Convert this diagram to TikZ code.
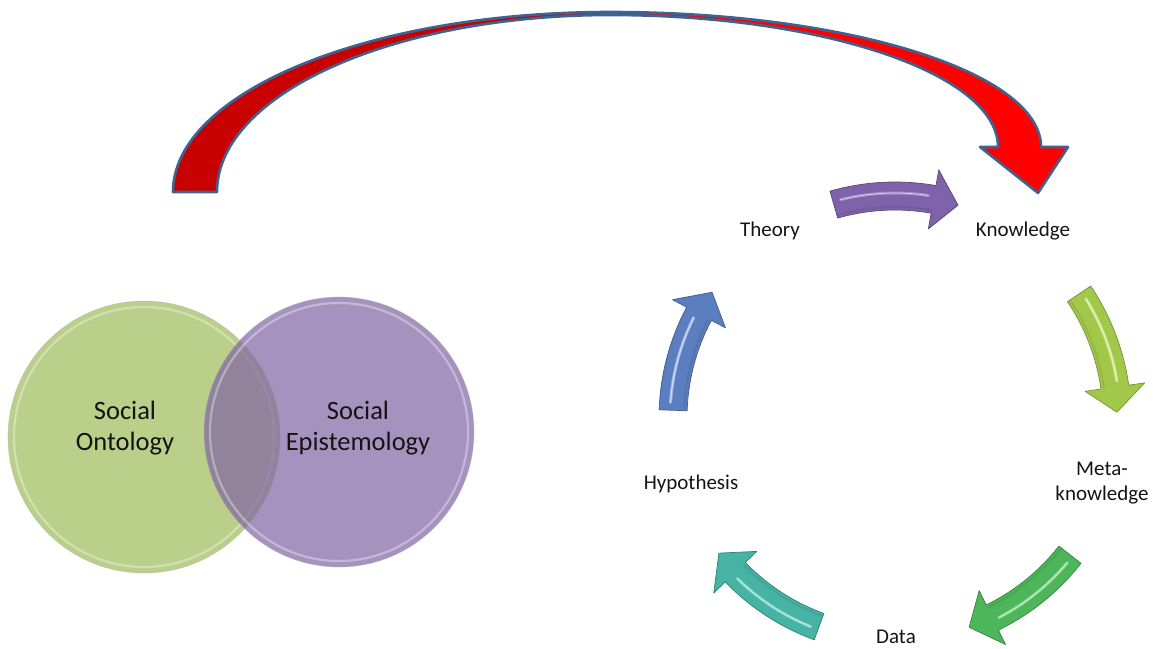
\documentclass[tikz,border=0pt]{standalone}
\usepackage{fontspec}
\setmainfont{Carlito}
\usetikzlibrary{calc}

\definecolor{arcdark}{HTML}{C80000}
\definecolor{arcbright}{HTML}{FF0000}
\definecolor{arcedge}{HTML}{3F6391}
\definecolor{ontogreen}{HTML}{9BBB59}
\definecolor{epipurple}{HTML}{8064A2}
\definecolor{txt}{HTML}{141414}
% cycle arrow colours: fill and bevel highlight
\definecolor{cpurple}{HTML}{7F62AA}\definecolor{hpurple}{HTML}{A893CF}
\definecolor{clime}{HTML}{A2C84A}\definecolor{hlime}{HTML}{D2EC95}
\definecolor{cgreen}{HTML}{4DB65A}\definecolor{hgreen}{HTML}{8EE096}
\definecolor{cteal}{HTML}{46B3A4}\definecolor{hteal}{HTML}{8AD9CD}
\definecolor{cblue}{HTML}{5A7EC0}\definecolor{hblue}{HTML}{A9C2EC}

% centre of the cycle and radii of the curved arrows
\def\cyx{895}\def\cyy{418}

% curved block arrow on the cycle: #1 middle angle, #2 fill, #3 highlight
\newcommand{\cycarrow}[3]{%
  \pgfmathsetmacro\cyS{#1-16}%
  \pgfmathsetmacro\cyB{#1+10}%
  \pgfmathsetmacro\cyT{#1+16.5}%
  \pgfmathsetmacro\cyHS{#1-14}%
  \pgfmathsetmacro\cyHE{#1+8.5}%
  \fill[#2, draw=#2!72!black, line width=0.7pt, line join=round]
    plot[domain=\cyS:\cyB, samples=30] ({\cyx+236*cos(\x)},{\cyy+236*sin(\x)})
    -- ({\cyx+252*cos(\cyB)},{\cyy+252*sin(\cyB)})
    -- ({\cyx+222*cos(\cyT)},{\cyy+222*sin(\cyT)})
    -- ({\cyx+192*cos(\cyB)},{\cyy+192*sin(\cyB)})
    -- plot[domain=\cyB:\cyS, samples=30] ({\cyx+208*cos(\x)},{\cyy+208*sin(\x)})
    -- cycle;
  \draw[#2!85!black, line width=2pt, opacity=0.5]
    plot[domain=\cyS:\cyB, samples=30] ({\cyx+211*cos(\x)},{\cyy+211*sin(\x)});
  \draw[#3, line width=3pt, line cap=round, opacity=0.85]
    plot[domain=\cyHS:\cyHE, samples=30] ({\cyx+225*cos(\x)},{\cyy+225*sin(\x)});
  \draw[white, line width=0.8pt, line cap=round, opacity=0.6]
    plot[domain=\cyHS:\cyHE, samples=30] ({\cyx+225*cos(\x)},{\cyy+225*sin(\x)});
}

\begin{document}
\begin{tikzpicture}[x=1pt, y=-1pt,
    lbl/.style={text=txt, font=\fontsize{21}{25}\selectfont, align=center, inner sep=0pt},
    venntext/.style={text=txt, font=\fontsize{26.5}{31}\selectfont, align=center, inner sep=0pt},
    rim/.style={white, line width=2.2pt, opacity=0.35},
    arcline/.style={arcedge, line width=2.6pt, line join=round}]
  \useasboundingbox (0,0) rectangle (1155,648);

  % ---- Venn diagram ----
  \coordinate (onto) at (144,437);
  \coordinate (epi) at (339,432);
  \fill[ontogreen, opacity=0.7] (onto) circle [radius=136];
  \draw[rim] (onto) circle [radius=130];
  \draw[black!30, line width=0.6pt, opacity=0.5] (onto) circle [radius=136];
  \fill[epipurple, opacity=0.7] (epi) circle [radius=135];
  \draw[rim] (epi) circle [radius=129];
  \draw[black!30, line width=0.6pt, opacity=0.5] (epi) circle [radius=135];
  \node[venntext] (ontolabel) at (125,428) {Social\\Ontology};
  \node[venntext] (epilabel) at (358,428) {Social\\Epistemology};

  % ---- big red curved arrow ----
  \fill[arcdark] (173,192) .. controls (173,92.6) and (368.6,12) .. (610,12)
    -- (610,15) .. controls (393,15) and (217,94.2) .. (217,192) -- cycle;
  \fill[arcbright] (610,12) .. controls (848,12) and (1041,72.4) .. (1041,147)
    -- (1068,147) -- (1038,193) -- (980,147) -- (998,147)
    .. controls (998,74.1) and (824.3,15) .. (610,15) -- cycle;
  \draw[arcline] (173,192) .. controls (173,92.6) and (368.6,12) .. (610,12)
    .. controls (848,12) and (1041,72.4) .. (1041,147)
    -- (1068,147) -- (1038,193) -- (980,147) -- (998,147)
    .. controls (998,74.1) and (824.3,15) .. (610,15)
    .. controls (393,15) and (217,94.2) .. (217,192) -- cycle;

  % ---- research cycle ----
  \coordinate (cyc) at (\cyx,\cyy);
  \node[lbl] (theory) at (770,231) {Theory};
  \node[lbl] (knowledge) at (1023,231) {Knowledge};
  \node[lbl] (meta) at (1102,483) {Meta-\\knowledge};
  \node[lbl] (data) at (896,637) {Data};
  \node[lbl] (hypo) at (691,484) {Hypothesis};

  \cycarrow{270}{cpurple}{hpurple}
  \cycarrow{342}{clime}{hlime}
  \cycarrow{54}{cgreen}{hgreen}
  \cycarrow{126}{cteal}{hteal}
  \cycarrow{198}{cblue}{hblue}
\end{tikzpicture}
\end{document}
